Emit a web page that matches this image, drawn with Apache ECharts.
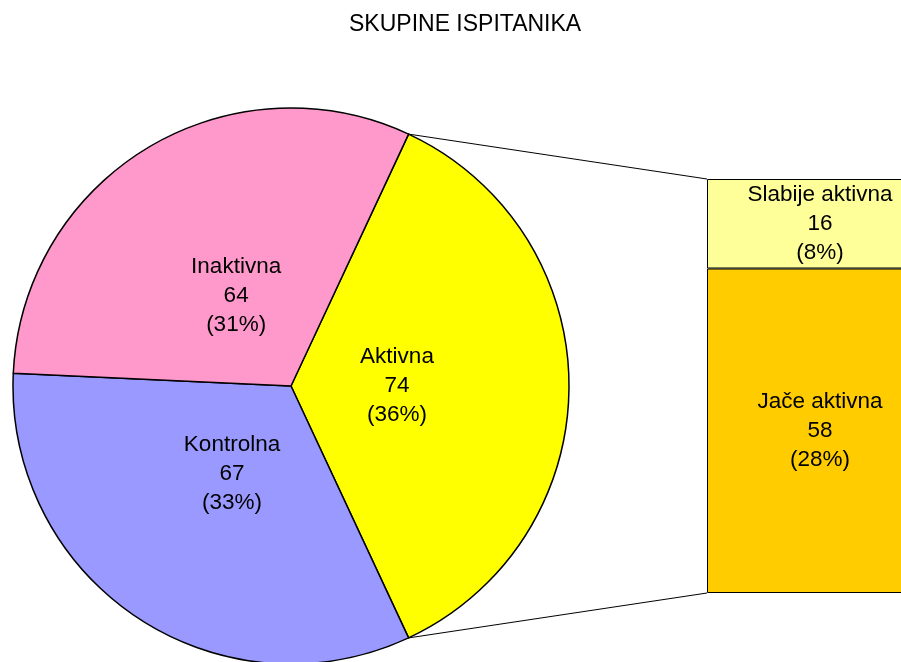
<!DOCTYPE html>
<html>
<head>
<meta charset="utf-8">
<script src="https://cdn.jsdelivr.net/npm/echarts@6/dist/echarts.min.js"></script>
<style>
  body { margin: 0; background: #fff; }
  #chart { width: 901px; height: 662px; }
</style>
</head>
<body>
<div id="chart"></div>
<script>
// data
var pieNames = ['Aktivna', 'Kontrolna', 'Inaktivna'];
var pieValues = [74, 67, 64];
var pieColors = ['#FFFF00', '#9999FF', '#FF99CC'];
var subNames = ['Jače aktivna', 'Slabije aktivna'];
var subValues = [58, 16];
var subColors = ['#FFCC00', '#FFFF99'];

var FONT = 'Liberation Sans, Arial, sans-serif';
var center = [291, 386];
var radius = 278;
var grid = { left: 707, top: 179, width: 226, height: 414, outerBoundsMode: 'none' };

var total = pieValues.reduce(function (a, b) { return a + b; }, 0);
var subTotal = subValues.reduce(function (a, b) { return a + b; }, 0);
// Aktivna slice is centred on the horizontal axis
var startAngle = pieValues[0] / total * 180;

var pieData = pieNames.map(function (n, i) {
    return { name: n, value: pieValues[i], itemStyle: { color: pieColors[i] } };
});

var labelStyle = { color: '#000', fontFamily: FONT, fontSize: 22.5, lineHeight: 29 };

var myChart = echarts.init(document.getElementById('chart'));

var option = {
    backgroundColor: '#fff',
    animation: false,
    title: {
        text: 'SKUPINE ISPITANIKA',
        left: 344,
        top: 8,
        textStyle: { color: '#000', fontFamily: FONT, fontSize: 23, fontWeight: 'normal' }
    },
    grid: grid,
    xAxis: { type: 'category', data: ['Aktivna'], show: false },
    yAxis: { type: 'value', min: 0, max: subTotal, show: false },
    series: [
        {
            // pie itself
            type: 'pie',
            center: center,
            radius: radius,
            startAngle: startAngle,
            clockwise: true,
            silent: true,
            label: { show: false },
            labelLine: { show: false },
            itemStyle: { borderColor: '#000', borderWidth: 1.5 },
            emphasis: { disabled: true },
            data: pieData
        },
        {
            // inner transparent pie, only to place the labels
            type: 'pie',
            center: center,
            radius: 206,
            startAngle: startAngle,
            clockwise: true,
            silent: true,
            percentPrecision: 0,
            itemStyle: { color: 'transparent', borderWidth: 0 },
            label: Object.assign({ show: true, position: 'inside', formatter: '{b}\n{c}\n({d}%)' }, labelStyle),
            labelLine: { show: false },
            emphasis: { disabled: true },
            data: pieNames.map(function (n, i) { return { name: n, value: pieValues[i] }; })
        }
    ].concat(subNames.map(function (n, i) {
        return {
            name: n,
            type: 'bar',
            stack: 'sub',
            barWidth: '100%',
            silent: true,
            data: [subValues[i]],
            itemStyle: { color: subColors[i], borderColor: '#000', borderWidth: 1 },
            label: Object.assign({
                show: true,
                position: 'inside',
                formatter: function (p) {
                    return n + '\n' + p.value + '\n(' + Math.round(p.value / total * 100) + '%)';
                }
            }, labelStyle)
        };
    }))
};

myChart.setOption(option);

// connector lines from the edge of the Aktivna slice to the corners of the bar
var half = startAngle * Math.PI / 180;
var px = center[0] + radius * Math.cos(half);
var pyTop = center[1] - radius * Math.sin(half);
var pyBot = center[1] + radius * Math.sin(half);
var barTop = myChart.convertToPixel({ yAxisIndex: 0 }, subTotal);
var barBot = myChart.convertToPixel({ yAxisIndex: 0 }, 0);

myChart.setOption({
    graphic: [
        { type: 'line', silent: true, shape: { x1: px, y1: pyTop, x2: grid.left, y2: barTop }, style: { stroke: '#000', lineWidth: 1 } },
        { type: 'line', silent: true, shape: { x1: px, y1: pyBot, x2: grid.left, y2: barBot }, style: { stroke: '#000', lineWidth: 1 } }
    ]
});
</script>
</body>
</html>
